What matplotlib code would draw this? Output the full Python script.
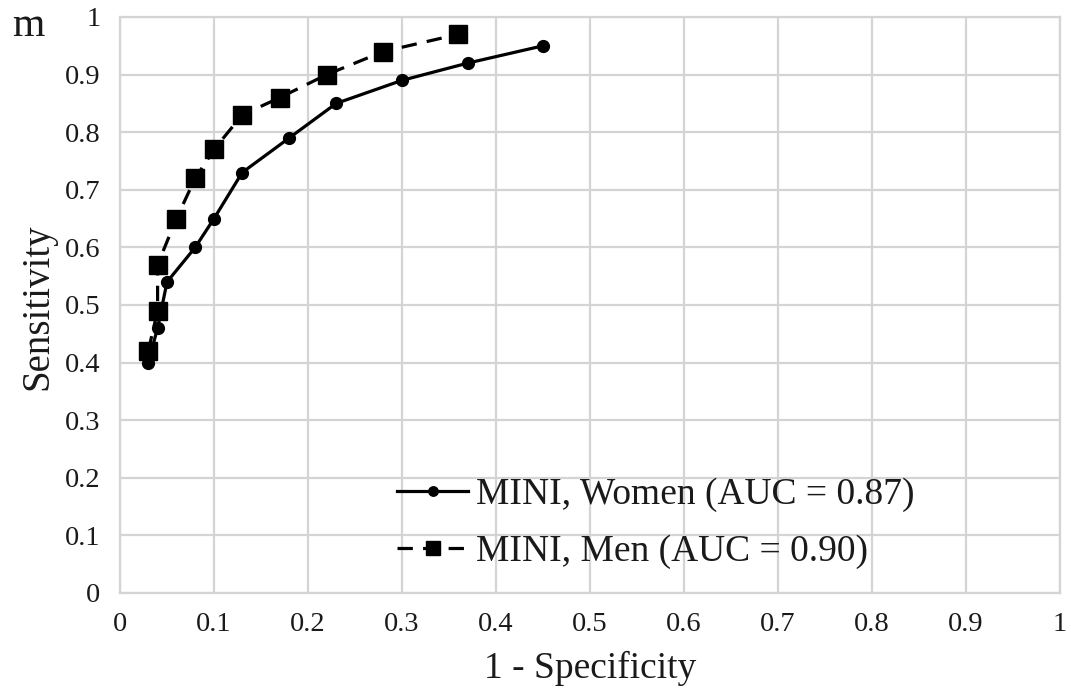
import matplotlib
matplotlib.use("Agg")
import matplotlib.pyplot as plt

plt.rcParams['font.family'] = ['Liberation Serif', 'DejaVu Serif']

# ROC points (1 - specificity, sensitivity)
women_fpr = [0.03, 0.04, 0.05, 0.08, 0.10, 0.13, 0.18, 0.23, 0.30, 0.37, 0.45]
women_tpr = [0.40, 0.46, 0.54, 0.60, 0.65, 0.73, 0.79, 0.85, 0.89, 0.92, 0.95]
men_fpr = [0.03, 0.04, 0.04, 0.06, 0.08, 0.10, 0.13, 0.17, 0.22, 0.28, 0.36]
men_tpr = [0.42, 0.49, 0.57, 0.65, 0.72, 0.77, 0.83, 0.86, 0.90, 0.94, 0.97]

women_label = "MINI, Women (AUC = 0.87)"
men_label = "MINI, Men (AUC = 0.90)"
x_title = "1 - Specificity"
y_title = "Sensitivity"
panel_tag = "m"
ticks = [0, 0.1, 0.2, 0.3, 0.4, 0.5, 0.6, 0.7, 0.8, 0.9, 1]
tick_labels = ["0", "0.1", "0.2", "0.3", "0.4", "0.5", "0.6", "0.7", "0.8", "0.9", "1"]

text_color = "#1a1a1a"
grid_color = "#d4d4d4"

fig = plt.figure(figsize=(10.71, 6.94), dpi=100)
ax = fig.add_axes([120 / 1071, 1 - 593 / 694, 940 / 1071, 576 / 694])

ax.plot(women_fpr, women_tpr, color="black", lw=2.3, marker="o", ms=8.5,
        label=women_label, clip_on=False, zorder=3)
ax.plot(men_fpr, men_tpr, color="black", lw=2.3, marker="s", ms=13,
        dashes=(4.8, 3.2), label=men_label, clip_on=False, zorder=3)

ax.set_xlim(0, 1)
ax.set_ylim(0, 1)
ax.set_xticks(ticks)
ax.set_xticklabels(tick_labels)
ax.set_yticks(ticks)
ax.set_yticklabels(tick_labels)
ax.tick_params(length=0, labelsize=20.5, colors=text_color, pad=14)
ax.grid(True, color=grid_color, lw=1.6)
ax.set_axisbelow(True)
for side in ["top", "right", "left", "bottom"]:
    ax.spines[side].set_color(grid_color)
    ax.spines[side].set_linewidth(1.6)

fig.text(590 / 1071, 1 - 668 / 694, x_title, ha="center", va="center",
         fontsize=27, color=text_color)
fig.text(38 / 1071, 1 - 307 / 694, y_title, ha="center", va="center",
         rotation=90, fontsize=28, color=text_color)
fig.text(12 / 1071, 1 - 36 / 694, panel_tag, ha="left", va="baseline",
         fontsize=30, color=text_color)

leg = ax.legend(loc="center left", bbox_to_anchor=(397 / 1071, 1 - 523 / 694),
                bbox_transform=fig.transFigure, frameon=False, fontsize=27,
                handlelength=1.9, handletextpad=0.22, labelspacing=0.6,
                borderpad=0, borderaxespad=0, markerscale=0.8)
for t in leg.get_texts():
    t.set_color(text_color)

fig.savefig("out.png", dpi=100)
